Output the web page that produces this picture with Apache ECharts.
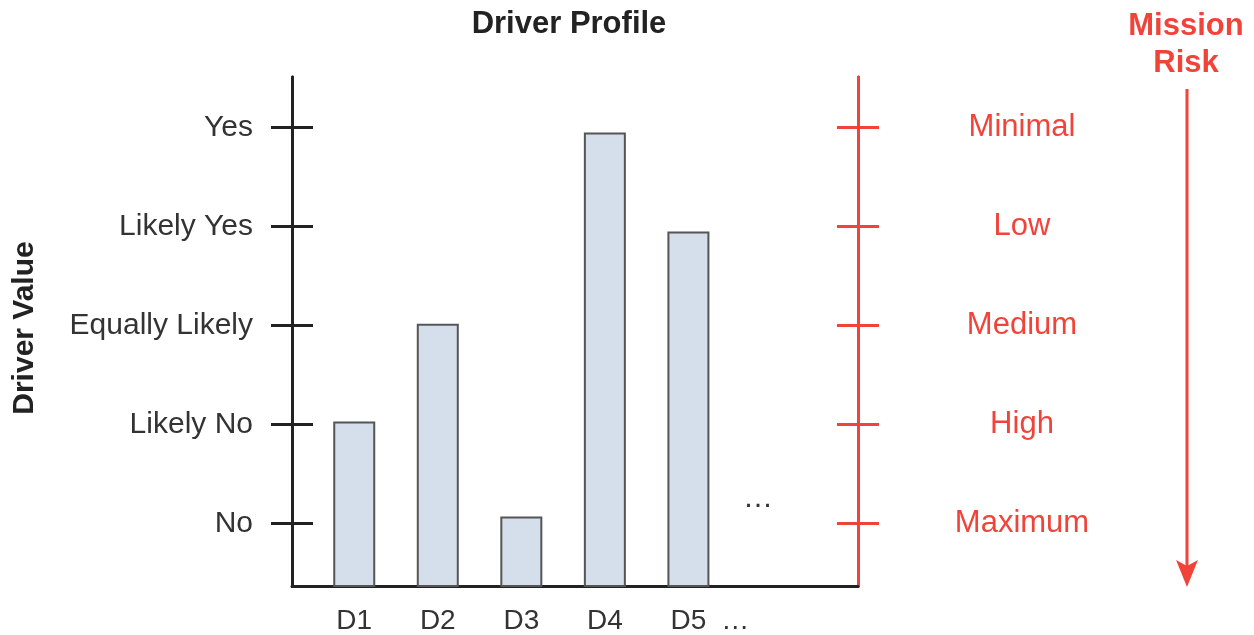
<!DOCTYPE html>
<html>
<head>
<meta charset="utf-8">
<script src="https://cdn.jsdelivr.net/npm/echarts@6/dist/echarts.min.js"></script>
<style>html,body{margin:0;padding:0;background:#fff;}#c{width:1254px;height:635px;}</style>
</head>
<body>
<div id="c"></div>
<script>
const categories = ['D1', 'D2', 'D3', 'D4', 'D5'];
const values = [2.03, 3.02, 1.07, 4.95, 3.95];
const driverLevels = ['No', 'Likely No', 'Equally Likely', 'Likely Yes', 'Yes'];
const riskLevels = ['Maximum', 'High', 'Medium', 'Low', 'Minimal'];
const levelValues = [1, 2, 3, 4, 5];
const xLabelValues = [1, 2, 3, 4, 5, 5.56];
const xLabelTexts = ['D1', 'D2', 'D3', 'D4', 'D5', '\u2026'];

const FONT = "'Liberation Sans', Arial, Helvetica, sans-serif";
const RED = '#f0443a';
const DARK = '#222';
const YMIN = 0.369, YMAX = 5.512;

const chart = echarts.init(document.getElementById('c'));

function yAx(position, color, tickInside, showLabel, labels, labelOpts) {
  return {
    type: 'value', position: position, min: YMIN, max: YMAX,
    splitLine: { show: false },
    axisLine: { show: true, lineStyle: { color: color, width: 3 } },
    axisTick: { show: true, inside: tickInside, length: 21, customValues: levelValues,
      lineStyle: { color: color, width: 3 } },
    axisLabel: Object.assign({
      show: showLabel, customValues: levelValues,
      fontFamily: FONT,
      formatter: function (v) { const i = levelValues.indexOf(Math.round(v)); return i >= 0 ? labels[i] : ''; }
    }, labelOpts || {})
  };
}

const option = {
  animation: false,
  backgroundColor: '#fff',
  grid: { left: 292, right: 396, top: 77, bottom: 48, containLabel: false },
  xAxis: {
    type: 'value', min: 0.255, max: 7.03,
    splitLine: { show: false },
    axisLine: { show: true, onZero: false, lineStyle: { color: DARK, width: 3 } },
    axisTick: { show: false },
    axisLabel: {
      customValues: xLabelValues, margin: 21, fontSize: 28, color: '#333', fontFamily: FONT,
      formatter: function (v) {
        let best = 0, d = 1e9;
        xLabelValues.forEach(function (x, i) { if (Math.abs(x - v) < d) { d = Math.abs(x - v); best = i; } });
        return xLabelTexts[best];
      }
    }
  },
  yAxis: [
    yAx('left', DARK, true, false, driverLevels),
    yAx('left', DARK, false, true, driverLevels, { margin: 39, fontSize: 30, color: '#333' }),
    yAx('right', RED, true, false, riskLevels),
    yAx('right', RED, false, true, riskLevels, { margin: 164, align: 'center', fontSize: 31, color: RED })
  ],
  series: [{
    type: 'bar',
    yAxisIndex: 0,
    barWidth: 42,
    clip: true,
    itemStyle: { color: '#d5dfeb', borderColor: '#555', borderWidth: 2 },
    data: categories.map(function (c, i) { return { name: c, value: [i + 1, values[i]] }; })
  }],
  graphic: [
    { type: 'text', x: 569, y: 24,
      style: { text: 'Driver Profile', fill: DARK, font: "bold 31px " + FONT, align: 'center', verticalAlign: 'middle' } },
    { type: 'text', x: 25, y: 328, rotation: Math.PI / 2,
      style: { text: 'Driver Value', fill: DARK, font: "bold 30px " + FONT, align: 'center', verticalAlign: 'middle' } },
    { type: 'text', x: 1186, y: 26,
      style: { text: 'Mission', fill: RED, font: "bold 31px " + FONT, align: 'center', verticalAlign: 'middle' } },
    { type: 'text', x: 1186, y: 63,
      style: { text: 'Risk', fill: RED, font: "bold 31px " + FONT, align: 'center', verticalAlign: 'middle' } },
    { type: 'line', shape: { x1: 1187, y1: 89, x2: 1187, y2: 566 }, style: { stroke: RED, lineWidth: 3 } },
    { type: 'polygon', shape: { points: [[1187, 587], [1176, 560], [1187, 566], [1198, 560]] }, style: { fill: RED } },
    { type: 'text', x: 758, y: 499,
      style: { text: '\u2026', fill: '#333', font: "30px " + FONT, align: 'center', verticalAlign: 'middle' } }
  ]
};
chart.setOption(option);
</script>
</body>
</html>
